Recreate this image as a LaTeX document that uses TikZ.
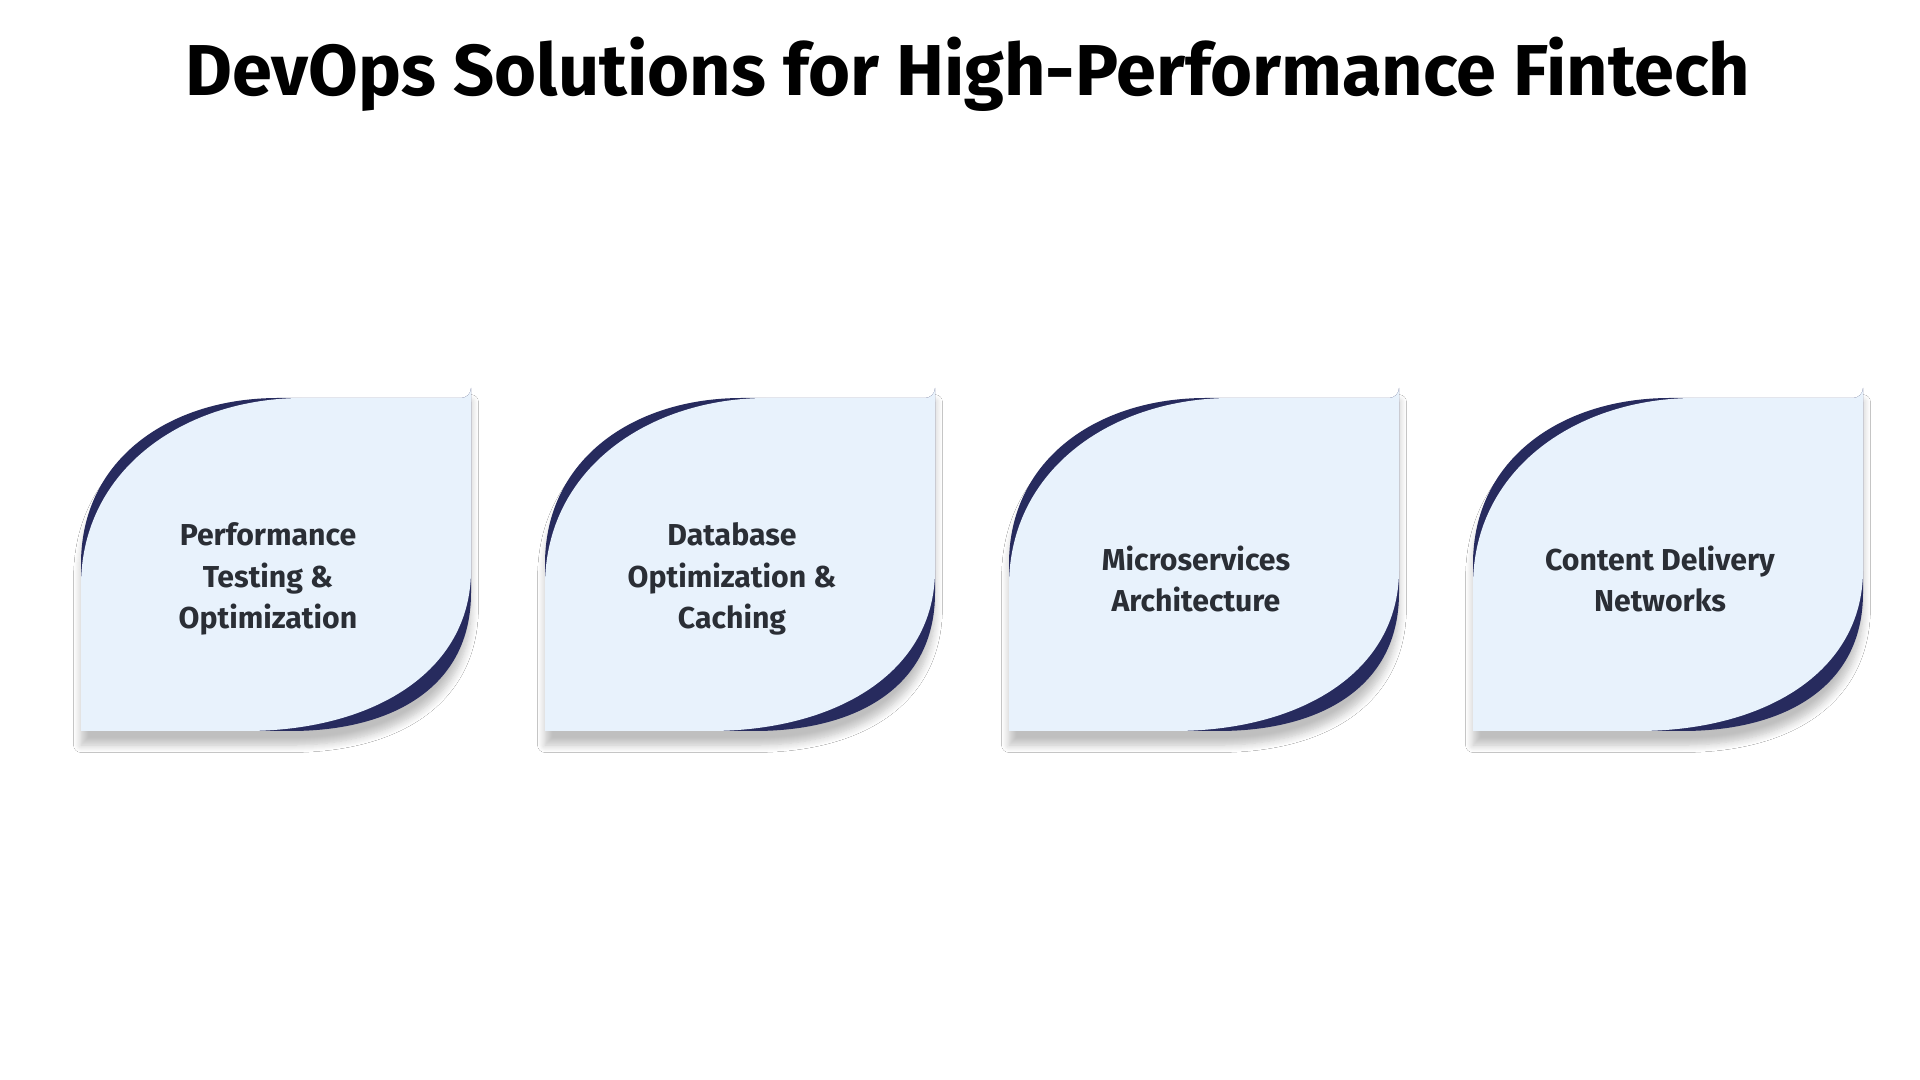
\documentclass[tikz,border=0pt]{standalone}
\usepackage{fontspec}
\setmainfont{Fira Sans}
\usetikzlibrary{shadows.blur}
\definecolor{darkc}{HTML}{272B5E}
\definecolor{lightc}{HTML}{E8F2FC}
\definecolor{txt}{HTML}{2A2E35}
\tikzset{
  lbl/.style={align=center,font=\fontsize{8.6}{11.7}\selectfont\bfseries,text=txt},
  darkleaf/.style={fill=darkc,blur shadow={shadow blur steps=8,shadow xshift=0pt,shadow yshift=-4pt,shadow opacity=25}},
  lightleaf/.style={fill=lightc}
}
\newcommand{\card}[3]{%
  \begin{scope}[shift={(#1,398)}]
    \fill[darkleaf] (0,333) -- (0,166) .. controls (0,60) and (90,0) .. (197,0) -- (380,0) arc[start angle=90,end angle=0,radius=10] -- (390,195) .. controls (390,290) and (310,333) .. (210,333) -- cycle;
    \fill[lightleaf] (0,333) -- (0,188) .. controls (0,70) and (105,0) .. (222,0) -- (380,0) arc[start angle=90,end angle=0,radius=10] -- (390,172) .. controls (390,275) and (290,333) .. (165,333) -- cycle;
    \node[lbl] (#2) at (187,181) {#3};
  \end{scope}}
\begin{document}
\begin{tikzpicture}[x=0.01cm,y=-0.01cm]
\fill[white] (0,0) rectangle (1920,1080);
\useasboundingbox (0,0) rectangle (1920,1080);
\node[font=\fontsize{20.5}{24}\selectfont\bfseries,text=black] (title) at (968,74) {DevOps Solutions for High-Performance Fintech};
\card{81}{c1}{Performance\\Testing \&\\Optimization}
\card{545}{c2}{Database\\Optimization \&\\Caching}
\card{1009}{c3}{Microservices\\Architecture}
\card{1473}{c4}{Content Delivery\\Networks}
\end{tikzpicture}
\end{document}
